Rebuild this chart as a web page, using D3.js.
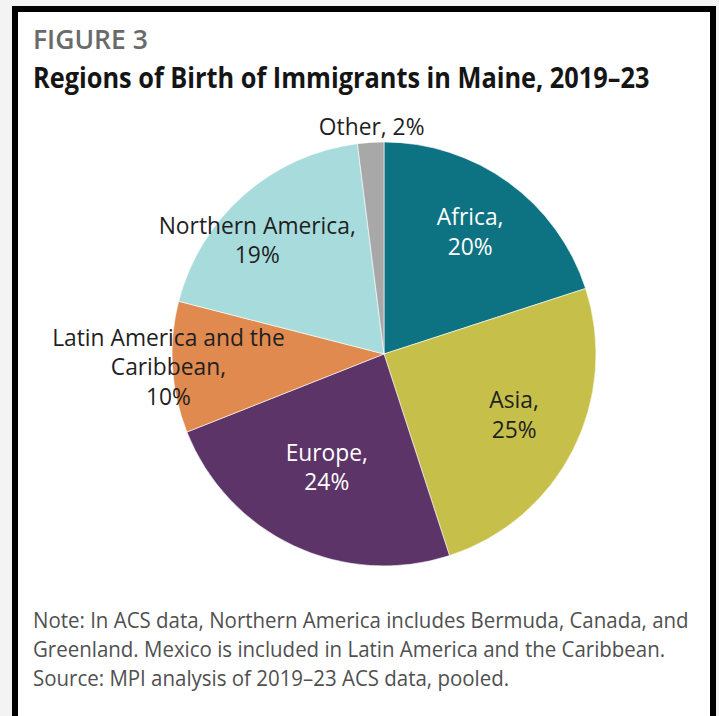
<!DOCTYPE html>
<html>
<head>
<meta charset="utf-8">
<script src="https://cdn.jsdelivr.net/npm/d3@7"></script>
<style>
  html, body { margin: 0; padding: 0; background: #f3f3f3; }
  svg { display: block; }
</style>
</head>
<body>
<script>
// Regions of birth of immigrants in Maine, 2019–23 (share of total, %)
const regions = ["Africa", "Asia", "Europe", "Latin America and the Caribbean", "Northern America", "Other"];
const shares = [20, 25, 24, 10, 19, 2];
const labelLines = [
  ["Africa,", "20%"],
  ["Asia,", "25%"],
  ["Europe,", "24%"],
  ["Latin America and the", "Caribbean,", "10%"],
  ["Northern America,", "19%"],
  ["Other, 2%"]
];
const sliceColors = ["#0d7282", "#c6c04b", "#5c3467", "#e08a4f", "#a8dcdc", "#a8a8a8"];
const labelColors = ["#ffffff", "#1f1f1f", "#ffffff", "#1f1f1f", "#1f1f1f", "#1f1f1f"];

const noteLines = [
  "Note: In ACS data, Northern America includes Bermuda, Canada, and",
  "Greenland. Mexico is included in Latin America and the Caribbean.",
  "Source: MPI analysis of 2019–23 ACS data, pooled."
];

const W = 719, H = 716;
const FONT = "'Open Sans', 'Noto Sans', sans-serif";

const svg = d3.select("body").append("svg")
  .attr("width", W).attr("height", H);

svg.append("rect").attr("width", W).attr("height", H).attr("fill", "#f3f3f3");

// framed panel
svg.append("rect")
  .attr("x", 15).attr("y", 9)
  .attr("width", 698).attr("height", 800)
  .attr("fill", "#ffffff")
  .attr("stroke", "#000000")
  .attr("stroke-width", 6);

// condense a text element horizontally around its anchor x
function condense(sel, factor) {
  sel.each(function () {
    const t = d3.select(this);
    const x = +t.attr("x") || 0;
    t.attr("transform", `translate(${x},0) scale(${factor},1) translate(${-x},0)`);
  });
}

svg.append("text")
  .attr("x", 33).attr("y", 49)
  .attr("font-family", FONT).attr("font-size", 26.5).attr("font-weight", 600)
  .attr("fill", "#6a6a6a")
  .text("FIGURE 3")
  .call(condense, 1.0);

svg.append("text")
  .attr("x", 33).attr("y", 88)
  .attr("font-family", FONT).attr("font-size", 28).attr("font-weight", 700)
  .attr("fill", "#151515")
  .text("Regions of Birth of Immigrants in Maine, 2019–23")
  .call(condense, 0.905);

// pie
const cx = 384, cy = 354, R = 212;
const data = regions.map((r, i) => ({ region: r, share: shares[i], i }));

const pie = d3.pie().sort(null).value(d => d.share);
const arcs = pie(data);
const arc = d3.arc().innerRadius(0).outerRadius(R);

const g = svg.append("g").attr("transform", `translate(${cx},${cy})`);

g.selectAll("path.slice")
  .data(arcs)
  .join("path")
  .attr("class", "slice")
  .attr("d", arc)
  .attr("fill", d => sliceColors[d.data.i])
  .attr("stroke", "#ffffff")
  .attr("stroke-width", 0.6);

// label placement: radius along the slice bisector, plus a nudge
const labelPlacement = {
  "Africa": { r: 150, dx: -2, dy: -1 },
  "Asia": { r: 146, dx: 0, dy: -6 },
  "Europe": { r: 125, dx: -4, dy: 0 },
  "Latin America and the Caribbean": { r: 216, dx: 0, dy: -1 },
  "Northern America": { r: 172, dx: -13, dy: 15 },
  "Other": { r: 228, dx: 2, dy: 0 }
};

const lineH = 29.5, capH = 17;

arcs.forEach(d => {
  const p = labelPlacement[d.data.region];
  const [lx, ly] = d3.arc().innerRadius(p.r).outerRadius(p.r).centroid(d);
  const x = lx + p.dx, y = ly + p.dy;
  const lines = labelLines[d.data.i];
  const y0 = y - (lines.length - 1) * lineH / 2 + capH / 2;
  lines.forEach((ln, k) => {
    g.append("text")
      .attr("x", x).attr("y", y0 + k * lineH)
      .attr("text-anchor", "middle")
      .attr("font-family", FONT).attr("font-size", 23.5)
      .attr("fill", labelColors[d.data.i])
      .text(ln)
      .call(condense, 0.97);
  });
});

// note and source
noteLines.forEach((ln, k) => {
  svg.append("text")
    .attr("x", 33).attr("y", 628 + k * 29)
    .attr("font-family", FONT).attr("font-size", 21)
    .attr("fill", "#505050")
    .text(ln)
    .call(condense, 0.975);
});
</script>
</body>
</html>
